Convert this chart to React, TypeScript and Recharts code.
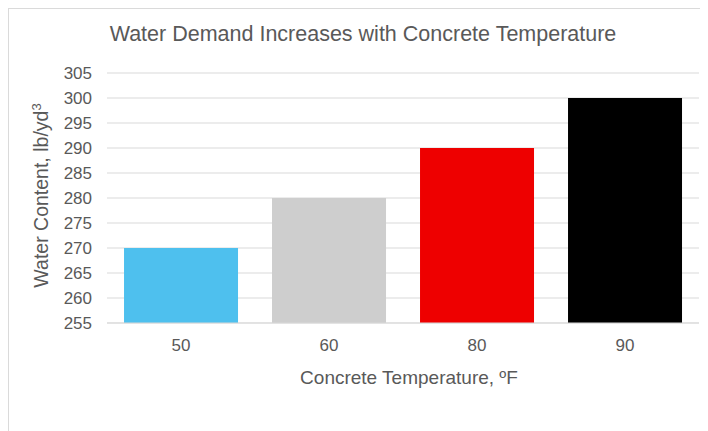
import React from 'react';
import { BarChart, Bar, XAxis, YAxis, CartesianGrid, Cell } from 'recharts';

const categories = ['50', '60', '80', '90'];
const waterContent = [270, 280, 290, 300];
const barColors = ['#4EC0EE', '#CECECE', '#EE0000', '#000000'];
const yTicks = [255, 260, 265, 270, 275, 280, 285, 290, 295, 300, 305];

const data = categories.map((c, i) => ({ temp: c, water: waterContent[i] }));

const FONT = '"Liberation Sans", Arial, sans-serif';
const TEXT = '#595959';
const GRID = '#D9D9D9';

const YLabel = () => (
  <text
    x={39.5}
    y={187.5}
    transform="rotate(-90, 39.5, 187.5)"
    textAnchor="middle"
    fill={TEXT}
    fontFamily={FONT}
    fontSize={19.5}
  >
    Water Content, lb/yd<tspan dy={-7} fontSize={13}>3</tspan>
  </text>
);

const XLabel = () => (
  <text x={401} y={376} textAnchor="middle" fill={TEXT} fontFamily={FONT} fontSize={19}>
    Concrete Temperature, ºF
  </text>
);

export default function App() {
  return (
    <div style={{ position: 'relative', width: 700, height: 423, fontFamily: FONT }}>
      <div
        style={{
          position: 'absolute',
          left: -1,
          top: -1,
          width: 700,
          height: 424,
          borderTop: '2px solid #DADADA',
          borderLeft: '2px solid #DADADA',
          boxSizing: 'border-box',
        }}
      />
      <div
        style={{
          position: 'absolute',
          left: 0,
          top: 16.1,
          width: 710,
          textAlign: 'center',
          fontSize: 21.5,
          lineHeight: '21.5px',
          color: TEXT,
          fontFamily: FONT,
          whiteSpace: 'nowrap',
        }}
      >
        Water Demand Increases with Concrete Temperature
      </div>
      <div style={{ position: 'absolute', left: 0, top: 0 }}>
        <BarChart
          width={700}
          height={423}
          data={data}
          margin={{ top: 65, right: 9, left: 0, bottom: 78 }}
          barCategoryGap="11.5%"
        >
          <CartesianGrid vertical={false} stroke={GRID} strokeWidth={1} />
          <XAxis
            dataKey="temp"
            height={30}
            interval={0}
            axisLine={{ stroke: GRID }}
            tickLine={false}
            tickSize={6}
            tickMargin={10}
            tick={{ fill: TEXT, fontSize: 17, fontFamily: FONT }}
            label={<XLabel />}
          />
          <YAxis
            width={99}
            domain={[255, 305]}
            ticks={yTicks}
            interval={0}
            allowDataOverflow
            axisLine={false}
            tickLine={false}
            tickSize={6}
            tickMargin={9}
            tick={{ fill: TEXT, fontSize: 17, fontFamily: FONT }}
            label={<YLabel />}
          />
          <Bar dataKey="water" isAnimationActive={false}>
            {data.map((d, i) => (
              <Cell key={d.temp} fill={barColors[i]} />
            ))}
          </Bar>
        </BarChart>
      </div>
    </div>
  );
}
